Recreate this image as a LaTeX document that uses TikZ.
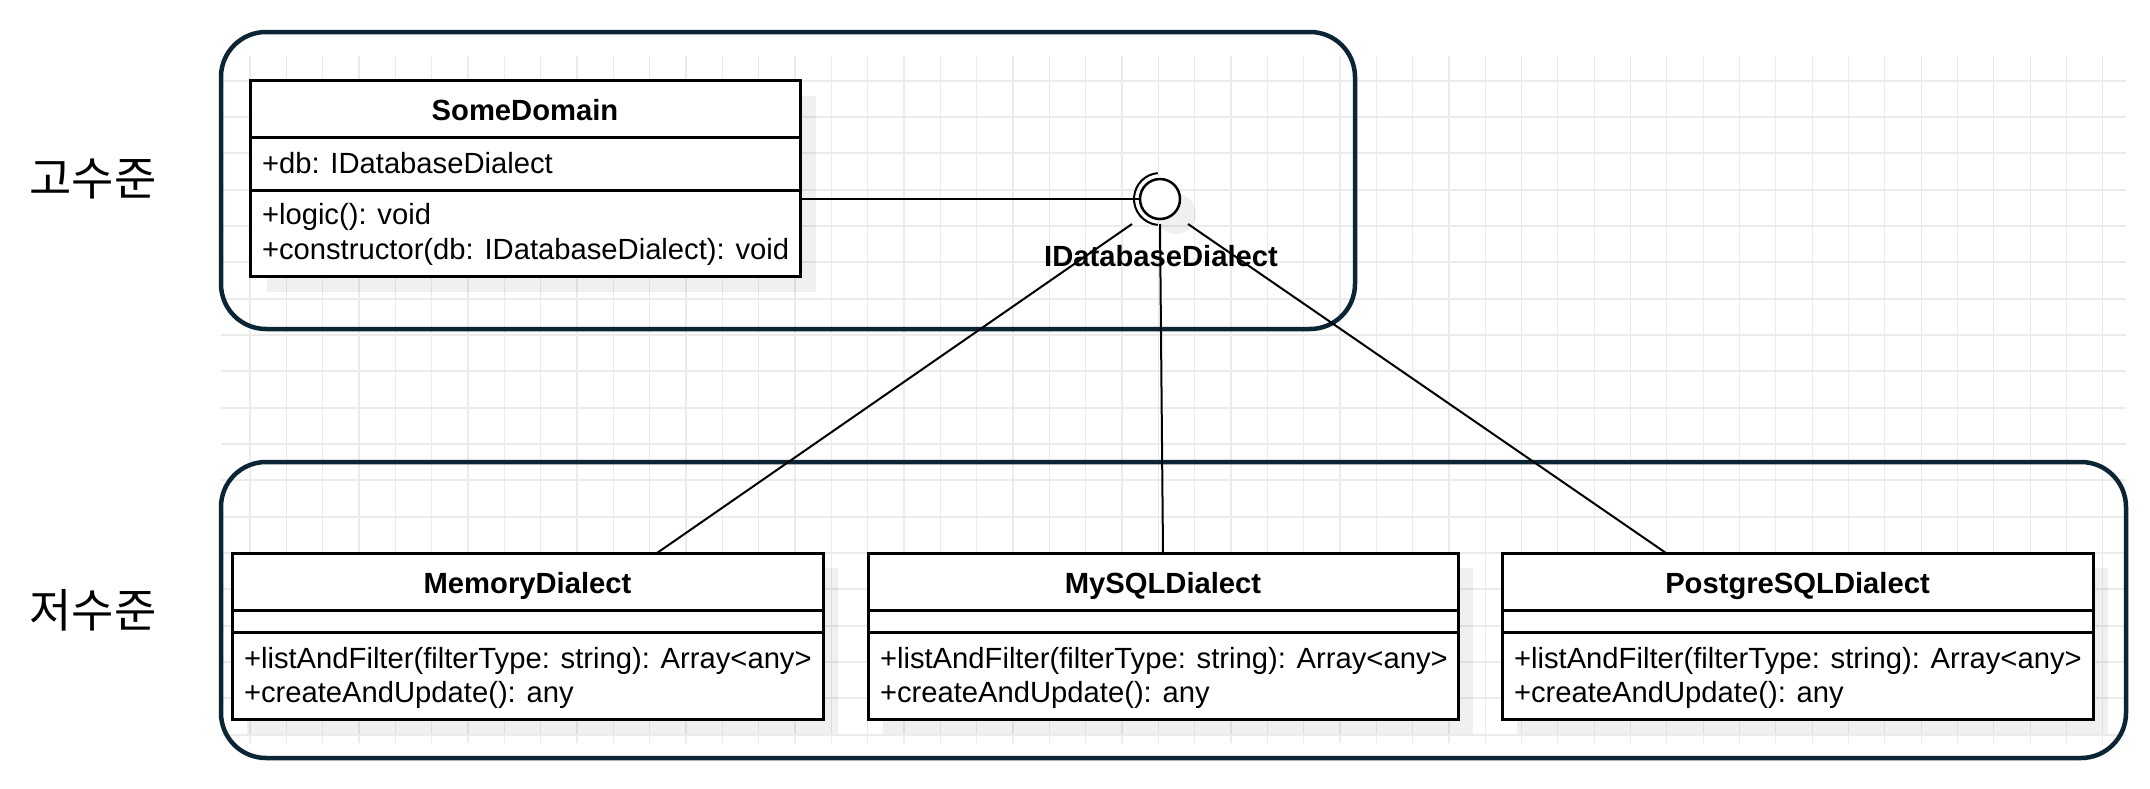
\documentclass[tikz,border=0pt]{standalone}
\usepackage{fontspec}
\setmainfont{Liberation Sans}
\newfontfamily\krfont{Noto Sans CJK KR}
\definecolor{navy}{HTML}{0B2535}
\definecolor{gridc}{HTML}{EBEBEB}
\begin{document}
\begin{tikzpicture}[x=1pt,y=-1pt,
  every node/.style={inner sep=0pt, outer sep=0pt},
  txt/.style={font=\fontsize{29.2}{35}\selectfont, anchor=base west},
  ttl/.style={font=\fontsize{29.2}{35}\selectfont\bfseries, anchor=base},
  umlbox/.style={draw=black, line width=3pt, fill=white, rectangle},
  divider/.style={draw=black, line width=3pt},
  shadowbox/.style={fill=black, fill opacity=0.06},
  group/.style={draw=navy, line width=4.5pt, rounded corners=45pt},
  gridv/.style={draw=gridc, line width=1.2pt},
  gridh/.style={draw=gridc, line width=2pt},
  link/.style={draw=black, line width=2pt},
  level/.style={font=\krfont\fontsize{46}{54}\selectfont}
]
\useasboundingbox (0,0) rectangle (2150,788);
\fill[white] (0,0) rectangle (2150,788);
% background grid
\foreach \i in {0,...,51} { \draw[gridv] ({250+36.33*\i},56) -- ({250+36.33*\i},743); }
\foreach \j in {0,...,18} { \draw[gridh] (221,{80.7+36.33*\j}) -- (2126,{80.7+36.33*\j}); }
% groups
\draw[group] (221,32) rectangle (1355,329);
\draw[group] (221,462) rectangle (2126,758);
% level labels
\node[level] (hi) at (93,179) {고수준};
\node[level] (lo) at (93,610) {저수준};
% shadows
\fill[shadowbox] (267,96) rectangle (816,292);
\fill[shadowbox] (247,568) rectangle (838,734);
\fill[shadowbox] (883,568) rectangle (1473,734);
\fill[shadowbox] (1517,568) rectangle (2108,734);
\fill[shadowbox] (1176,214) circle[radius=20];
% SomeDomain
\node[umlbox, minimum width=550pt, minimum height=196pt] (sd) at (525,178) {};
\draw[divider] (sd.west |- 0,137) -- (sd.east |- 0,137);
\draw[divider] (sd.west |- 0,190) -- (sd.east |- 0,190);
\node[ttl] (sdt) at (525,120) {SomeDomain};
\node[txt] (sda) at (262,173) {+db: IDatabaseDialect};
\node[txt] (sdm1) at (262,224) {+logic(): void};
\node[txt] (sdm2) at (262,259) {+constructor(db: IDatabaseDialect): void};
% dialect boxes
\node[umlbox, minimum width=591pt, minimum height=166pt] (mem) at (527.5,636) {};
\node[umlbox, minimum width=590pt, minimum height=166pt] (mys) at (1163,636) {};
\node[umlbox, minimum width=591pt, minimum height=166pt] (pg) at (1797.5,636) {};
\foreach \b in {mem,mys,pg} {
  \draw[divider] (\b.west |- 0,610) -- (\b.east |- 0,610);
  \draw[divider] (\b.west |- 0,632) -- (\b.east |- 0,632);
}
\node[ttl] (memt) at (527.5,593) {MemoryDialect};
\node[ttl] (myst) at (1163,593) {MySQLDialect};
\node[ttl] (pgt) at (1797.5,593) {PostgreSQLDialect};
\node[txt] (mem1) at (244,668) {+listAndFilter(filterType: string): Array<any>};
\node[txt] (mem2) at (244,702) {+createAndUpdate(): any};
\node[txt] (mys1) at (880,668) {+listAndFilter(filterType: string): Array<any>};
\node[txt] (mys2) at (880,702) {+createAndUpdate(): any};
\node[txt] (pg1) at (1514,668) {+listAndFilter(filterType: string): Array<any>};
\node[txt] (pg2) at (1514,702) {+createAndUpdate(): any};
% interface lollipop
\coordinate (ifl) at (1132,224);
\coordinate (ifm) at (1160,224);
\coordinate (ifr) at (1188,224);
\node[circle, draw=black, line width=2.5pt, fill=white, minimum size=40pt] (iface) at (1160,199) {};
\draw[line width=2pt] (iface.center) ++(95:26) arc[start angle=95, end angle=265, radius=26];
\node[ttl] (ifacelbl) at (1161,266) {IDatabaseDialect};
% connectors
\draw[link] (sd.east |- iface.west) -- (iface.west);
\draw[link] (ifl) -- ([xshift=129.5pt]mem.north);
\draw[link] (ifm) -- (mys.north);
\draw[link] (ifr) -- ([xshift=-131.5pt]pg.north);
\end{tikzpicture}
\end{document}
